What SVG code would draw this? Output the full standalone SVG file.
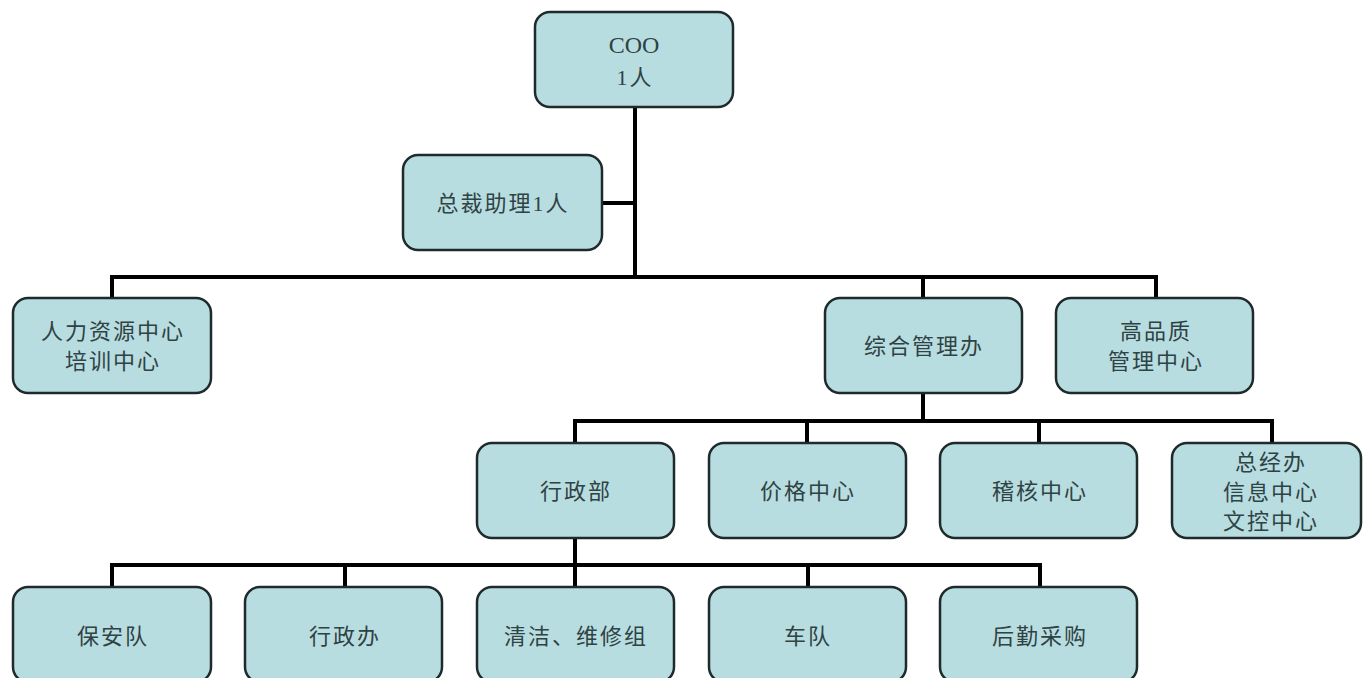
<svg xmlns="http://www.w3.org/2000/svg" width="1363" height="678" viewBox="0 0 1363 678">
<style>
.box{fill:#b8dde0;stroke:#1f2a2b;stroke-width:2.5}
.t{font-family:"Liberation Serif","Noto Sans CJK SC",serif;font-size:22px;letter-spacing:2px;fill:#2f4244;text-anchor:middle;dominant-baseline:central}
.c{fill:none;stroke:#000;stroke-width:4;stroke-linecap:square}
</style>
<rect width="1363" height="678" fill="#fff"/>
<g id="connectors">
<path class="c" d="M635 108V277M112 298V277H1156V298M923 277V298"/>
<path class="c" d="M602 203H635" stroke-width="5"/>
<path class="c" d="M923 393V421M575 443V421H1272V443M807 421V443M1039 421V443"/>
<path class="c" d="M575 538V565M112 587V565H1040V587M345 565V587M575 565V587M808 565V587"/>
</g>
<g id="coo"><rect class="box" x="535" y="12" width="198" height="95" rx="15"/><text class="t" x="634" y="45" style="font-size:24px;letter-spacing:0">COO</text><text class="t" x="635" y="77">1人</text></g>
<g id="assistant"><rect class="box" x="403" y="155" width="199" height="95" rx="15"/><text class="t" x="503" y="203">总裁助理1人</text></g>
<g id="hr"><rect class="box" x="13" y="298" width="198" height="95" rx="15"/><text class="t" x="113" y="331">人力资源中心</text><text class="t" x="113" y="361">培训中心</text></g>
<g id="general"><rect class="box" x="825" y="298" width="197" height="95" rx="15"/><text class="t" x="924" y="346">综合管理办</text></g>
<g id="quality"><rect class="box" x="1056" y="298" width="197" height="95" rx="15"/><text class="t" x="1156" y="331">高品质</text><text class="t" x="1156" y="361">管理中心</text></g>
<g id="admin"><rect class="box" x="477" y="443" width="197" height="95" rx="15"/><text class="t" x="576" y="491">行政部</text></g>
<g id="price"><rect class="box" x="709" y="443" width="197" height="95" rx="15"/><text class="t" x="808" y="491">价格中心</text></g>
<g id="audit"><rect class="box" x="940" y="443" width="197" height="95" rx="15"/><text class="t" x="1040" y="491">稽核中心</text></g>
<g id="gm"><rect class="box" x="1172" y="443" width="189" height="95" rx="15"/><text class="t" x="1271" y="462">总经办</text><text class="t" x="1271" y="492">信息中心</text><text class="t" x="1271" y="521">文控中心</text></g>
<g id="security"><rect class="box" x="13" y="587" width="198" height="95" rx="15"/><text class="t" x="113" y="636">保安队</text></g>
<g id="adminoffice"><rect class="box" x="245" y="587" width="197" height="95" rx="15"/><text class="t" x="345" y="636">行政办</text></g>
<g id="cleaning"><rect class="box" x="477" y="587" width="197" height="95" rx="15"/><text class="t" x="576" y="636">清洁、维修组</text></g>
<g id="fleet"><rect class="box" x="709" y="587" width="197" height="95" rx="15"/><text class="t" x="808" y="636">车队</text></g>
<g id="logistics"><rect class="box" x="940" y="587" width="197" height="95" rx="15"/><text class="t" x="1040" y="636">后勤采购</text></g>
</svg>
